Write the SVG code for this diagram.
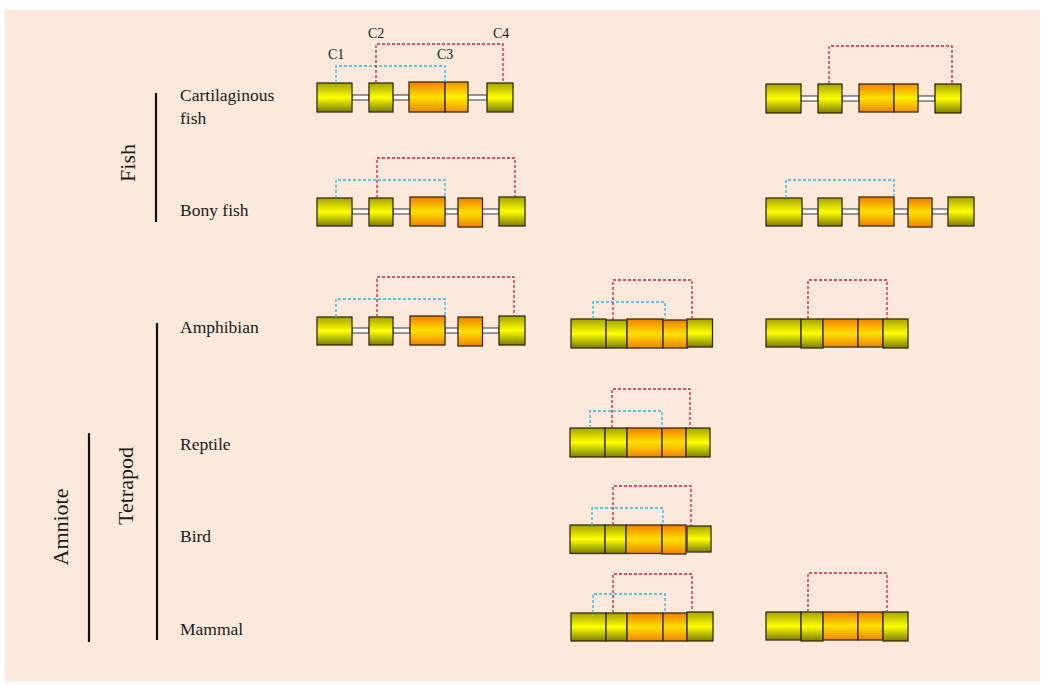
<svg xmlns="http://www.w3.org/2000/svg" width="1043" height="685" viewBox="0 0 1043 685">
<defs>
<linearGradient id="gy" x1="0" y1="0" x2="0" y2="1">
<stop offset="0" stop-color="#a3a300"/>
<stop offset="0.5" stop-color="#ffff00"/>
<stop offset="1" stop-color="#7d7d00"/>
</linearGradient>
<linearGradient id="go" x1="0" y1="0" x2="0" y2="1">
<stop offset="0" stop-color="#ee7f00"/>
<stop offset="0.5" stop-color="#ffe000"/>
<stop offset="1" stop-color="#ee8400"/>
</linearGradient>
<linearGradient id="go2" x1="0" y1="0" x2="0" y2="1">
<stop offset="0" stop-color="#f09000"/>
<stop offset="0.5" stop-color="#fff000"/>
<stop offset="1" stop-color="#f09000"/>
</linearGradient>
</defs>
<style>
.y{fill:url(#gy);stroke:#3a2a10;stroke-width:1.3}
.o{fill:url(#go);stroke:#3a2a10;stroke-width:1.3}
.o2{fill:url(#go2);stroke:#3a2a10;stroke-width:1.3}
.bar{fill:#ffffff;stroke:#333333;stroke-width:1}
.b{fill:none;stroke:#2fb6e0;stroke-width:1.3;stroke-dasharray:3 2}
.r{fill:none;stroke:#d02040;stroke-width:1.3;stroke-dasharray:3 2}
.lbl{font-family:"Liberation Serif",serif;font-size:17.5px;fill:#1a1a1a}
.grp{font-family:"Liberation Serif",serif;font-size:22px;fill:#1a1a1a;text-anchor:middle}
.c{font-family:"Liberation Serif",serif;font-size:14px;fill:#1a1a1a}
.ln{stroke:#111111;stroke-width:2.2}
</style>
<rect x="0" y="0" width="1043" height="685" fill="#ffffff"/>
<rect x="5" y="10" width="1035" height="671" fill="#fde9dc"/>

<g id="labels">
<text class="lbl" x="180" y="101">Cartilaginous</text>
<text class="lbl" x="180" y="124">fish</text>
<text class="lbl" x="180" y="216">Bony  fish</text>
<text class="lbl" x="180" y="333">Amphibian</text>
<text class="lbl" x="180" y="450">Reptile</text>
<text class="lbl" x="180" y="542">Bird</text>
<text class="lbl" x="180" y="635">Mammal</text>
<text class="c" x="328" y="59">C1</text>
<text class="c" x="368" y="38">C2</text>
<text class="c" x="437" y="59">C3</text>
<text class="c" x="493" y="38">C4</text>
</g>

<g id="groups">
<line class="ln" x1="156" y1="93" x2="156" y2="222"/>
<text class="grp" transform="translate(135,163) rotate(-90)">Fish</text>
<line class="ln" x1="157" y1="323" x2="157" y2="640"/>
<text class="grp" transform="translate(133,486) rotate(-90)">Tetrapod</text>
<line class="ln" x1="89" y1="433" x2="89" y2="642"/>
<text class="grp" transform="translate(68,527) rotate(-90)">Amniote</text>
</g>

<g id="cart-fish-a">
<rect class="bar" x="352" y="95" width="17" height="5"/>
<rect class="bar" x="393" y="95" width="16" height="5"/>
<rect class="bar" x="468" y="95" width="19" height="5"/>
<rect class="y" x="317" y="83" width="35" height="29"/>
<rect class="y" x="369" y="83" width="24" height="29"/>
<rect class="o" x="409" y="82" width="36" height="30"/>
<rect class="o2" x="445" y="82" width="23" height="30"/>
<rect class="y" x="487" y="83" width="26" height="29"/>
</g>

<g id="cart-fish-b">
<rect class="bar" x="801" y="96" width="17" height="5"/>
<rect class="bar" x="842" y="96" width="17" height="5"/>
<rect class="bar" x="918" y="96" width="17" height="5"/>
<rect class="y" x="766" y="84" width="35" height="29"/>
<rect class="y" x="818" y="84" width="24" height="29"/>
<rect class="o" x="859" y="84" width="35" height="28"/>
<rect class="o2" x="894" y="84" width="24" height="28"/>
<rect class="y" x="935" y="84" width="26" height="29"/>
</g>

<g id="bony-fish-a">
<rect class="bar" x="352" y="209" width="17" height="5"/>
<rect class="bar" x="393" y="209" width="17" height="5"/>
<rect class="bar" x="445" y="209" width="13" height="5"/>
<rect class="bar" x="482" y="209" width="17" height="5"/>
<rect class="y" x="317" y="198" width="35" height="28"/>
<rect class="y" x="369" y="198" width="24" height="28"/>
<rect class="o" x="410" y="197" width="35" height="29"/>
<rect class="o" x="458" y="198" width="24.5" height="29"/>
<rect class="y" x="499" y="197" width="26" height="29"/>
</g>

<g id="bony-fish-b">
<rect class="bar" x="802" y="209" width="16" height="5"/>
<rect class="bar" x="842" y="209" width="17" height="5"/>
<rect class="bar" x="894" y="209" width="14" height="5"/>
<rect class="bar" x="932" y="209" width="16" height="5"/>
<rect class="y" x="766" y="198" width="36" height="28"/>
<rect class="y" x="818" y="198" width="24" height="28"/>
<rect class="o" x="859" y="197" width="35" height="29"/>
<rect class="o" x="908" y="198" width="24" height="29"/>
<rect class="y" x="948" y="197" width="26" height="29"/>
</g>

<g id="amphibian-a">
<rect class="bar" x="352" y="328" width="17" height="5"/>
<rect class="bar" x="393" y="328" width="17" height="5"/>
<rect class="bar" x="445" y="328" width="13" height="5"/>
<rect class="bar" x="482" y="328" width="17" height="5"/>
<rect class="y" x="317" y="317" width="35" height="28"/>
<rect class="y" x="369" y="317" width="24" height="28"/>
<rect class="o" x="410" y="316" width="35" height="29"/>
<rect class="o" x="458" y="317" width="24.5" height="29"/>
<rect class="y" x="499" y="316" width="26" height="29"/>
</g>

<g id="amphibian-b">
<rect class="y" x="571" y="319" width="35" height="29"/>
<rect class="y" x="606" y="320" width="21" height="28"/>
<rect class="o" x="627" y="319" width="36" height="29"/>
<rect class="o" x="663" y="320" width="24.5" height="28"/>
<rect class="y" x="687" y="319" width="25.5" height="28"/>
</g>

<g id="amphibian-c">
<rect class="y" x="766" y="319" width="35" height="28"/>
<rect class="y" x="801" y="319" width="22" height="29"/>
<rect class="o" x="823" y="319" width="35" height="28"/>
<rect class="o" x="858" y="319" width="25" height="28"/>
<rect class="y" x="883" y="319" width="25" height="29"/>
</g>

<g id="reptile">
<rect class="y" x="570" y="428" width="35" height="29"/>
<rect class="y" x="605" y="428" width="22" height="29"/>
<rect class="o" x="627" y="428" width="35" height="29"/>
<rect class="o" x="662" y="428" width="24" height="29"/>
<rect class="y" x="686" y="428" width="24" height="29"/>
</g>

<g id="bird">
<rect class="y" x="570" y="525" width="35" height="28.5"/>
<rect class="y" x="605" y="525" width="21" height="28.5"/>
<rect class="o" x="626" y="525" width="36" height="28.5"/>
<rect class="o" x="662" y="525" width="24" height="29"/>
<rect class="y" x="687" y="526" width="24" height="26"/>
</g>

<g id="mammal-a">
<rect class="y" x="571" y="613" width="35" height="28"/>
<rect class="y" x="606" y="613" width="21" height="28"/>
<rect class="o" x="627" y="613" width="36" height="28"/>
<rect class="o" x="663" y="613" width="24" height="28"/>
<rect class="y" x="687" y="612" width="26" height="29"/>
</g>

<g id="mammal-b">
<rect class="y" x="766" y="612" width="35" height="28"/>
<rect class="y" x="801" y="612" width="22" height="29"/>
<rect class="o" x="823" y="612" width="35" height="28"/>
<rect class="o" x="858" y="612" width="25" height="28"/>
<rect class="y" x="883" y="612" width="25" height="29"/>
</g>

<g id="connectors">
<path class="b" d="M336 83 V66 H445 V82"/>
<path class="r" d="M376 83 V44 H503 V83"/>
<path class="r" d="M829 84 V46 H952 V84"/>
<path class="b" d="M336 198 V180 H445 V197"/>
<path class="r" d="M377 198 V158 H515 V197"/>
<path class="b" d="M786 198 V180 H894 V197"/>
<path class="b" d="M336 317 V299 H445 V316"/>
<path class="r" d="M377 317 V277 H514 V316"/>
<path class="b" d="M593 319 V302 H665 V320"/>
<path class="r" d="M613 320 V280 H692 V319"/>
<path class="r" d="M808 319 V280 H887 V319"/>
<path class="b" d="M590 428 V411 H662 V428"/>
<path class="r" d="M612 428 V389 H690 V428"/>
<path class="b" d="M592 525 V508 H663 V525"/>
<path class="r" d="M613 525 V486 H691 V526"/>
<path class="b" d="M593 613 V594 H665 V613"/>
<path class="r" d="M613 613 V574 H692 V612"/>
<path class="r" d="M808 612 V573 H887 V612"/>
</g>
</svg>
